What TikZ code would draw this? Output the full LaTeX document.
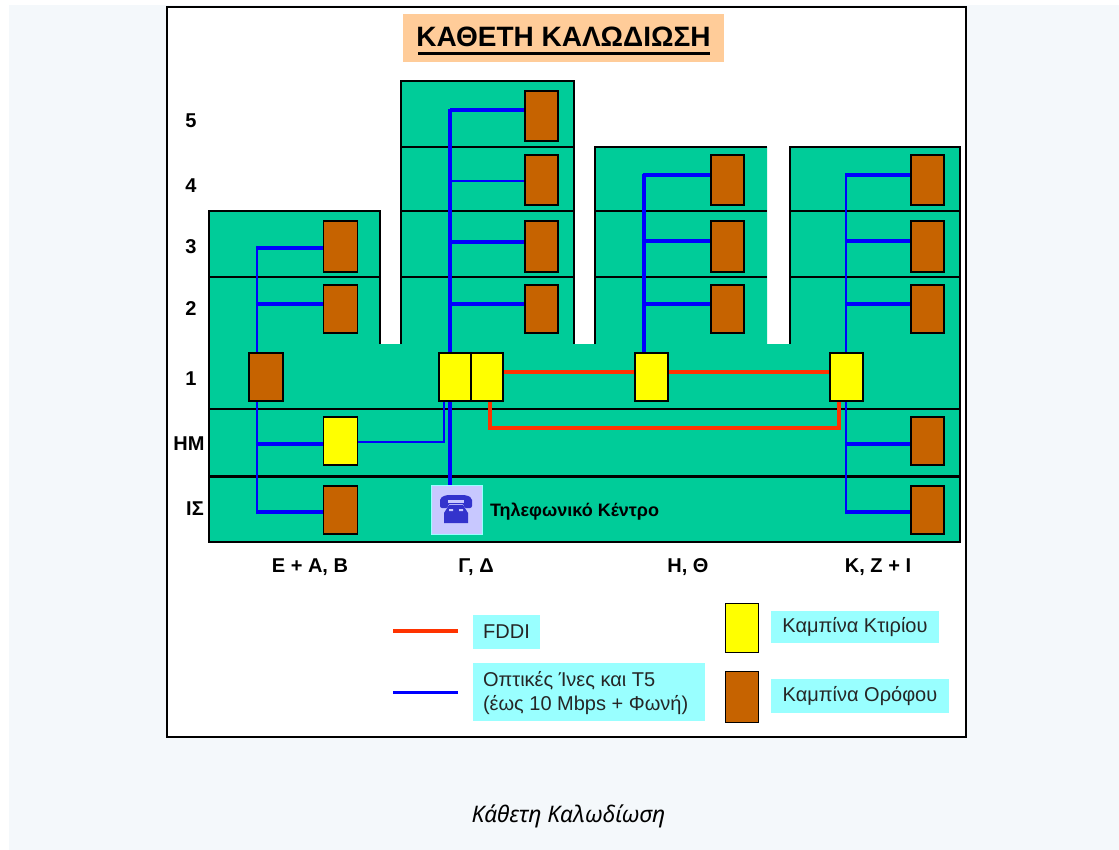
\documentclass[tikz,border=0pt]{standalone}
\usepackage{fontspec}
\setmainfont{Liberation Sans}
\newfontfamily\capfont{Noto Sans}
\definecolor{pagebg}{HTML}{F4F8FB}
\definecolor{green1}{HTML}{00CC99}
\definecolor{cabinetbrown}{HTML}{C66300}
\definecolor{cabinetyellow}{HTML}{FFFF00}
\definecolor{fiberblue}{HTML}{0000FF}
\definecolor{fddired}{HTML}{FF3300}
\definecolor{legcyan}{HTML}{99FFFF}
\definecolor{peach}{HTML}{FFCC99}
\definecolor{phonebg}{HTML}{C8C8FF}
\definecolor{phoneblue}{HTML}{3333CC}
\tikzset{
  x=1pt,y=-1pt,
  every node/.style={inner sep=0pt,outer sep=0pt},
  cabinet/.style={draw=black,line width=1.4pt,anchor=north west,minimum width=33pt,minimum height=48pt},
  floorcab/.style={cabinet,fill=cabinetbrown},
  maincab/.style={cabinet,fill=cabinetyellow},
  fiber/.style={draw=fiberblue,line width=3.4pt},
  fibert/.style={draw=fiberblue,line width=2.9pt},
  fddi/.style={draw=fddired,line width=3.4pt},
  floorline/.style={draw=black,line width=1.1pt},
  lvl/.style={font=\fontsize{20}{22}\selectfont\bfseries,anchor=base},
  col/.style={font=\fontsize{20}{22}\selectfont\bfseries,anchor=base},
  leg/.style={fill=legcyan,anchor=north west},
  legtext/.style={font=\fontsize{20}{24}\selectfont,text=black!85}
}
\begin{document}
\begin{tikzpicture}
\useasboundingbox (0,0) rectangle (1119,850);
\fill[white] (0,0) rectangle (1119,850);
\fill[pagebg] (9,5.5) rectangle (1119,850);
\draw[black,line width=1.6pt,fill=white] (167,7) rectangle (966,737);
% title
\fill[peach] (403,14) rectangle (724,62);
\node[font=\fontsize{28}{30}\selectfont\bfseries] (title) at (563.5,37) {ΚΑΘΕΤΗ ΚΑΛΩΔΙΩΣΗ};
\draw[black,line width=3pt] (418,53.5) -- (710,53.5);
% building
\fill[green1]
  (209,542) -- (209,211) -- (380,211) -- (380,344) -- (401,344) -- (401,81) -- (574,81)
  -- (574,344) -- (595,344) -- (595,147) -- (767,147) -- (767,344) -- (790,344)
  -- (790,147) -- (960,147) -- (960,542) -- cycle;
\draw[floorline] (380,344) -- (380,211) -- (209,211) -- (209,542) -- (960,542) -- (960,147) -- (790,147) -- (790,344);
\draw[floorline] (401,344) -- (401,81) -- (574,81) -- (574,344);
\draw[floorline] (595,344) -- (595,147) -- (767,147);
\draw[floorline] (401,147) -- (574,147);
\draw[floorline] (401,211) -- (574,211) (595,211) -- (767,211) (790,211) -- (960,211);
\draw[floorline] (209,277) -- (380,277) (401,277) -- (574,277) (595,277) -- (767,277) (790,277) -- (960,277);
\draw[floorline] (209,409) -- (960,409);
\draw[black,line width=3pt] (209,476) -- (960,476);
% connectors
\draw[fibert] (257,353) -- (257,247);
\draw[fibert] (257,401) -- (257,513);
\draw[fiber] (256,248) -- (323.5,248);
\draw[fiber] (257,304) -- (323.5,304);
\draw[fiber] (257,444) -- (323.5,444);
\draw[fiber] (256,512) -- (323.5,512);
\draw[fiber,line width=4pt] (450,353) -- (450,109);
\draw[fiber] (450,110) -- (525,110);
\draw[fibert] (450,181) -- (525,181);
\draw[fiber] (450,242) -- (525,242);
\draw[fiber] (450,304) -- (525,304);
\draw[fiber,line width=4pt] (450,401) -- (450,485);
\draw[fibert] (357,442) -- (444,442) -- (444,401);
\draw[fiber,line width=3.6pt] (644,353) -- (644,174);
\draw[fiber] (643,175) -- (711,175);
\draw[fiber] (644,241) -- (711,241);
\draw[fiber] (644,304) -- (711,304);
\draw[fibert] (846,353) -- (846,174);
\draw[fiber] (845,175) -- (911,175);
\draw[fiber] (846,241) -- (911,241);
\draw[fiber] (846,304) -- (911,304);
\draw[fibert] (846,401) -- (846,513);
\draw[fiber] (846,444) -- (911,444);
\draw[fiber] (845,512) -- (911,512);
\draw[fddi] (503,372) -- (635,372);
\draw[fddi] (668,372) -- (830,372);
\draw[fddi] (490,401) -- (490,428) -- (839,428) -- (839,401);
% cabinets
\node[floorcab,minimum width=34pt,minimum height=51pt] (a3) at (323.5,221) {};
\node[floorcab,minimum width=34pt] (a2) at (323.5,285) {};
\node[floorcab,minimum width=34pt] (a1) at (249,353) {};
\node[maincab,minimum width=34pt] (ah) at (323.5,417) {};
\node[floorcab,minimum width=34pt] (ai) at (323.5,486) {};
\node[floorcab,minimum height=50pt] (b5) at (525,91) {};
\node[floorcab,minimum height=50pt] (b4) at (525,155) {};
\node[floorcab,minimum height=51pt] (b3) at (525,221) {};
\node[floorcab] (b2) at (525,285) {};
\node[maincab,minimum width=32pt] (b1) at (439,353) {};
\node[maincab,minimum width=32pt] (b0) at (471,353) {};
\node[floorcab,minimum height=50pt] (c4) at (711,155) {};
\node[floorcab,minimum height=51pt] (c3) at (711,221) {};
\node[floorcab] (c2) at (711,285) {};
\node[maincab] (c1) at (635,353) {};
\node[floorcab,minimum height=50pt] (d4) at (911,155) {};
\node[floorcab,minimum height=51pt] (d3) at (911,221) {};
\node[floorcab] (d2) at (911,285) {};
\node[maincab] (d1) at (830,353) {};
\node[floorcab] (dh) at (911,417) {};
\node[floorcab] (di) at (911,486) {};
% phone
\node[draw=legcyan,line width=1pt,fill=phonebg,anchor=north west,minimum width=51pt,minimum height=49pt] (ph) at (431,485) {};
\fill[phoneblue,rounded corners=2pt] (440,508) -- (440,498) -- (446,495) -- (466,495) -- (472,498) -- (472,508) -- (464,508) -- (464,504) -- (448,504) -- (448,508) -- cycle;
\fill[phoneblue] (449,505) -- (463,505) -- (468,513) -- (468,523) -- (444,523) -- (444,513) -- cycle;
\fill[phonebg] (448,500) rectangle (464,502.5);
\fill[phonebg] (449,509) rectangle (453,511) (459,509) rectangle (463,511);
\node[font=\fontsize{18}{20}\selectfont\bfseries,anchor=west] (phl) at (490,512) {Τηλεφωνικό Κέντρο};
% level labels
\node[lvl] (l5) at (191,128) {5};
\node[lvl] (l4) at (191,193) {4};
\node[lvl] (l3) at (191,254) {3};
\node[lvl] (l2) at (191,316) {2};
\node[lvl] (l1) at (191,385) {1};
\node[lvl] (lh) at (189,450) {ΗΜ};
\node[lvl] (li) at (195,515) {ΙΣ};
\node[col] (c-a) at (310,572) {Ε + Α, Β};
\node[col] (c-b) at (476,572) {Γ, Δ};
\node[col] (c-c) at (688,572) {Η, Θ};
\node[col] (c-d) at (878,572) {Κ, Ζ + Ι};
% legend
\coordinate (lr1) at (393,631); \coordinate (lr2) at (458,631);
\coordinate (lb1) at (393,692.5); \coordinate (lb2) at (458,692.5);
\draw[fddi,line width=3.5pt] (lr1) -- (lr2);
\draw[fiber,line width=3.5pt] (lb1) -- (lb2);
\node[leg,minimum width=67pt,minimum height=34pt] (lf) at (473,615) {};
\node[legtext] (lft) at (lf.center) {FDDI};
\node[leg,minimum width=232pt,minimum height=58pt] (lo) at (473,663) {};
\node[legtext,align=left,anchor=west] (lot) at (483,693.5) {Οπτικές Ίνες και Τ5\\(έως 10 Mbps + Φωνή)};
\node[draw=black,line width=1.4pt,fill=cabinetyellow,anchor=north west,minimum width=33pt,minimum height=49pt] (ly) at (725.5,603.5) {};
\node[draw=black,line width=1.4pt,fill=cabinetbrown,anchor=north west,minimum width=33pt,minimum height=51pt] (lbr) at (725.5,671.5) {};
\node[leg,minimum width=168pt,minimum height=32pt] (lk) at (771,611) {};
\node[legtext] (lkt) at (lk.center) {Καμπίνα Κτιρίου};
\node[leg,minimum width=178pt,minimum height=34pt] (lr) at (771,679) {};
\node[legtext] (lrt) at (lr.center) {Καμπίνα Ορόφου};
% caption
\node[font=\capfont\fontsize{22.8}{26}\selectfont\itshape] (cap) at (568.5,816.5) {Κάθετη Καλωδίωση};
\end{tikzpicture}
\end{document}
